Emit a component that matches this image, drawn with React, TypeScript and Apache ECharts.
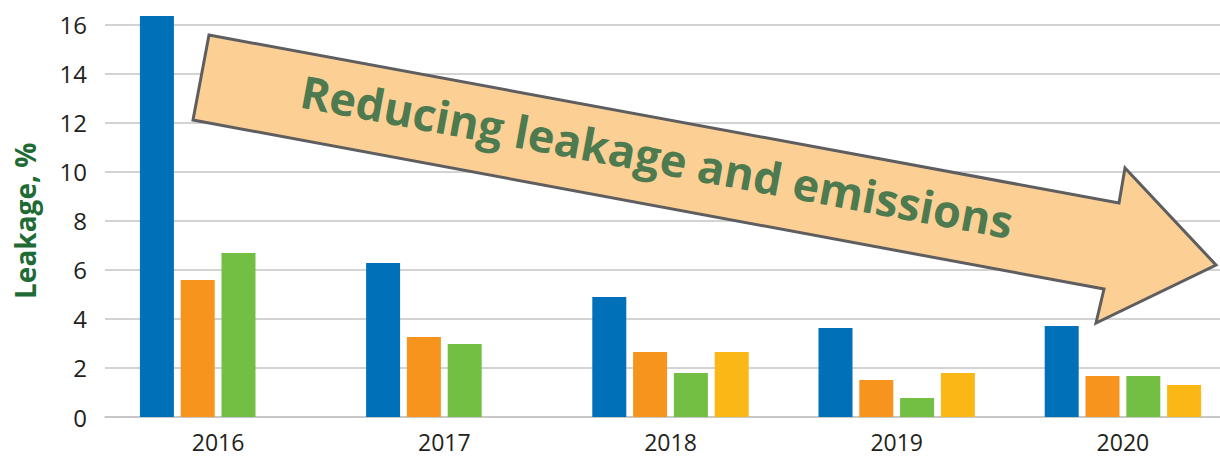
import React, { useEffect, useRef } from "react";
import * as echarts from "echarts";

const years = ["2016", "2017", "2018", "2019", "2020"];
const seriesBlue = [16.35, 6.28, 4.89, 3.63, 3.71];
const seriesOrange = [5.58, 3.26, 2.65, 1.51, 1.67];
const seriesGreen = [6.69, 2.98, 1.79, 0.77, 1.67];
const seriesYellow: (number | null)[] = [null, null, 2.65, 1.79, 1.3];
const yMin = 0;
const yMax = 16;
const yStep = 2;
const yTitle = "Leakage, %";
const arrowText = "Reducing leakage and emissions";

const colors = ["#0070b8", "#f7941d", "#72bf44", "#fbb716"];
const FONT = "'Open Sans', 'Noto Sans', sans-serif";

export default function App() {
  const ref = useRef<HTMLDivElement>(null);
  useEffect(() => {
    if (!ref.current) return;
    const chart = echarts.init(ref.current, undefined, { renderer: "svg" });
    const mk = (name: string, data: (number | null)[], color: string) => ({
      name,
      type: "bar",
      data,
      barWidth: 34,
      barGap: "20%",
      clip: false,
      itemStyle: { color },
    });
    const angle = Math.atan2(168, 910);
    chart.setOption({
      animation: false,
      textStyle: { fontFamily: FONT },
      grid: {
        left: 105,
        width: 1131,
        top: 24.5,
        bottom: 39,
        containLabel: false,
        outerBoundsMode: "none",
      },
      xAxis: {
        type: "category",
        data: years,
        axisTick: { show: false },
        axisLine: { lineStyle: { color: "#c4c4c6", width: 1.5 } },
        axisLabel: {
          fontSize: 23,
          lineHeight: 20,
          color: "#231f20",
          margin: 15,
          fontFamily: FONT,
        },
      },
      yAxis: {
        type: "value",
        min: yMin,
        max: yMax,
        interval: yStep,
        name: yTitle,
        nameLocation: "middle",
        nameRotate: 90,
        nameGap: 66,
        nameTextStyle: { fontSize: 28, fontWeight: "bold", color: "#1f6b35", fontFamily: FONT },
        axisLine: { show: false },
        axisTick: { show: false },
        axisLabel: { fontSize: 24, color: "#231f20", margin: 18, fontFamily: FONT },
        splitLine: { lineStyle: { color: "#c4c4c6", width: 1.5 } },
      },
      series: [
        mk("Series 1", seriesBlue, colors[0]),
        mk("Series 2", seriesOrange, colors[1]),
        mk("Series 3", seriesGreen, colors[2]),
        mk("Series 4", seriesYellow, colors[3]),
      ],
      graphic: [
        {
          type: "polygon",
          z: 100,
          shape: {
            points: [
              [209, 35],
              [1119, 203],
              [1125, 168],
              [1216, 265],
              [1096, 323],
              [1104, 289],
              [193, 120],
            ],
          },
          style: { fill: "#fcd095", stroke: "#5e5e60", lineWidth: 3, lineJoin: "miter" },
        },
        {
          type: "text",
          z: 101,
          x: 657,
          y: 156,
          rotation: -angle,
          style: {
            text: arrowText,
            fill: "#4e7a50",
            font: `bold 45px ${FONT}`,
            align: "center",
            verticalAlign: "middle",
          },
        },
      ],
    });
    return () => chart.dispose();
  }, []);
  return (
    <div
      ref={ref}
      style={{ position: "fixed", left: 0, top: 0, width: 1220, height: 456, background: "#fff" }}
    />
  );
}
